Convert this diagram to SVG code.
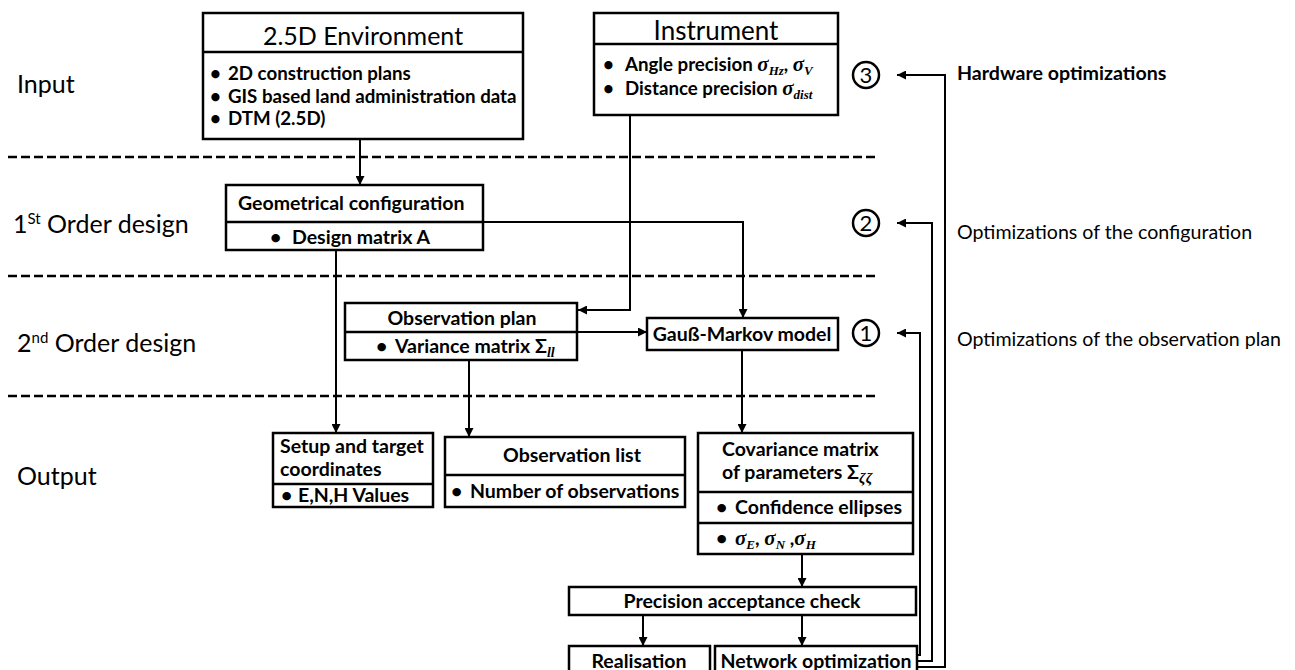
<svg xmlns="http://www.w3.org/2000/svg" width="1295" height="670" viewBox="0 0 1295 670">
<style>
text{font-family:Lato,"Liberation Sans",sans-serif;fill:#000}
.box{fill:#fff;stroke:#000;stroke-width:2.5}
.div{stroke:#000;stroke-width:2.5}
.t{font-size:19.5px;font-weight:bold}
.e{font-size:18.7px;font-weight:bold}
.lab{font-size:25px}
.rl{font-size:19.6px}
.m{font-family:"Liberation Serif",serif;font-style:italic;font-weight:bold}
.dash{stroke:#000;stroke-width:2.5;stroke-dasharray:9 4;fill:none}
.c{fill:none;stroke:#000;stroke-width:2.5}
.num{font-size:22px;text-anchor:middle}
.mid{text-anchor:middle}
</style>
<defs>
<marker id="ah" viewBox="0 0 10 10" refX="10" refY="5" markerWidth="9" markerHeight="9" markerUnits="userSpaceOnUse" orient="auto">
<path d="M0,0 L10,5 L0,10 z" fill="#000"/>
</marker>
</defs>

<g id="separators">
<line class="dash" x1="8" y1="157" x2="875" y2="157"/>
<line class="dash" x1="8" y1="276" x2="875" y2="276"/>
<line class="dash" x1="8" y1="396" x2="875" y2="396"/>
</g>

<g id="stage-labels">
<text class="lab" x="17" y="93">Input</text>
<text class="lab" x="13" y="233">1<tspan font-size="15" dy="-9">St</tspan><tspan dy="9"> Order design</tspan></text>
<text class="lab" x="17" y="352">2<tspan font-size="15" dy="-9">nd</tspan><tspan dy="9"> Order design</tspan></text>
<text class="lab" x="17" y="485">Output</text>
</g>

<g id="connectors" fill="none" stroke="#000" stroke-width="2">
<path d="M360 139 V185" marker-end="url(#ah)"/>
<path d="M630 115 V310 H578" marker-end="url(#ah)"/>
<path d="M483 222 H743 V318" marker-end="url(#ah)"/>
<path d="M577 332 H647" marker-end="url(#ah)"/>
<path d="M336 250 V433" marker-end="url(#ah)"/>
<path d="M469 360 V437" marker-end="url(#ah)"/>
<path d="M742 350 V433" marker-end="url(#ah)"/>
<path d="M802 554 V587" marker-end="url(#ah)"/>
<path d="M643 615 V646" marker-end="url(#ah)"/>
<path d="M802 615 V646" marker-end="url(#ah)"/>
<path d="M917 655 H920 V333 H897" marker-end="url(#ah)"/>
<path d="M917 661 H932 V223 H897" marker-end="url(#ah)"/>
<path d="M917 667 H945 V75 H897" marker-end="url(#ah)"/>
</g>

<g id="env">
<rect class="box" x="203" y="13" width="320" height="126"/>
<line class="div" x1="203" y1="52" x2="523" y2="52"/>
<text class="mid" font-size="25" x="363" y="45">2.5D Environment</text>
<text class="e" x="210" y="80">•</text><text class="e" x="228" y="80">2D construction plans</text>
<text class="e" x="210" y="103">•</text><text class="e" x="228" y="103">GIS based land administration data</text>
<text class="e" x="210" y="125">•</text><text class="e" x="228" y="125">DTM (2.5D)</text>
</g>

<g id="instrument">
<rect class="box" x="594" y="13" width="244" height="102"/>
<line class="div" x1="594" y1="44" x2="838" y2="44"/>
<text class="mid" font-size="26" x="716" y="40">Instrument</text>
<text class="e" x="603" y="71">•</text><text class="e" x="625" y="71">Angle precision <tspan class="m" font-size="21">σ</tspan><tspan class="m" font-size="13" dy="4">Hz</tspan><tspan dy="-4">, </tspan><tspan class="m" font-size="21">σ</tspan><tspan class="m" font-size="13" dy="4">V</tspan></text>
<text class="e" x="603" y="95">•</text><text class="e" x="625" y="95">Distance precision <tspan class="m" font-size="21">σ</tspan><tspan class="m" font-size="13" dy="4">dist</tspan></text>
</g>

<g id="circle3"><circle class="c" cx="866" cy="75" r="13"/><text class="num" x="866" y="83">3</text></g>
<g id="circle2"><circle class="c" cx="866" cy="223" r="13"/><text class="num" x="866" y="231">2</text></g>
<g id="circle1"><circle class="c" cx="866" cy="333" r="13"/><text class="num" x="866" y="341">1</text></g>

<g id="hw-label"><text class="rl" font-weight="bold" font-size="19.2" x="957" y="80">Hardware optimizations</text></g>
<g id="conf-label"><text class="rl" x="957" y="239">Optimizations of the configuration</text></g>
<g id="obs-label"><text class="rl" x="957" y="346">Optimizations of the observation plan</text></g>

<g id="geometry">
<rect class="box" x="226" y="185" width="257" height="65"/>
<line class="div" x1="226" y1="222" x2="483" y2="222"/>
<text class="t" x="238" y="210">Geometrical configuration</text>
<text class="t" x="270" y="244">•</text><text class="t" x="292" y="244">Design matrix A</text>
</g>

<g id="obsplan">
<rect class="box" x="345" y="303" width="232" height="57"/>
<line class="div" x1="345" y1="332" x2="577" y2="332"/>
<text class="t mid" x="462" y="325">Observation plan</text>
<text class="t" x="376" y="353">•</text><text class="t" x="395" y="353">Variance matrix Σ<tspan class="m" font-size="14" dy="4">ll</tspan></text>
</g>

<g id="gauss">
<rect class="box" x="647" y="318" width="191" height="32"/>
<text class="t mid" font-size="20.5" x="742" y="341">Gauß-Markov model</text>
</g>

<g id="setup">
<rect class="box" x="273" y="433" width="160" height="74"/>
<line class="div" x1="273" y1="484" x2="433" y2="484"/>
<text class="t" x="280" y="453">Setup and target</text>
<text class="t" x="280" y="476">coordinates</text>
<text class="t" x="281" y="502">•</text><text class="t" x="298" y="502">E,N,H Values</text>
</g>

<g id="obslist">
<rect class="box" x="445" y="437" width="240" height="70"/>
<line class="div" x1="445" y1="475" x2="685" y2="475"/>
<text class="t mid" x="572" y="462">Observation list</text>
<text class="t" x="451" y="498">•</text><text class="t" x="470" y="498">Number of observations</text>
</g>

<g id="covariance">
<rect class="box" x="698" y="433" width="215" height="121"/>
<line class="div" x1="698" y1="492" x2="913" y2="492"/>
<line class="div" x1="698" y1="523" x2="913" y2="523"/>
<text class="t" x="722" y="456">Covariance matrix</text>
<text class="t" x="722" y="479">of parameters Σ<tspan class="m" font-size="15" dy="4">ζζ</tspan></text>
<text class="t" x="716" y="514">•</text><text class="t" x="735" y="514">Confidence ellipses</text>
<text class="t" x="716" y="545">•</text><text class="t" x="735" y="545"><tspan class="m" font-size="21">σ</tspan><tspan class="m" font-size="13" dy="4">E</tspan><tspan dy="-4">, </tspan><tspan class="m" font-size="21">σ</tspan><tspan class="m" font-size="13" dy="4">N</tspan><tspan dy="-4"> ,</tspan><tspan class="m" font-size="21">σ</tspan><tspan class="m" font-size="13" dy="4">H</tspan></text>
</g>

<g id="precision">
<rect class="box" x="569" y="587" width="347" height="28"/>
<text class="t mid" x="742" y="608">Precision acceptance check</text>
</g>

<g id="realisation">
<rect class="box" x="569" y="646" width="141" height="32"/>
<text class="t mid" x="639" y="668">Realisation</text>
</g>

<g id="network">
<rect class="box" x="715" y="646" width="202" height="32"/>
<text class="t mid" x="816" y="668">Network optimization</text>
</g>
</svg>
